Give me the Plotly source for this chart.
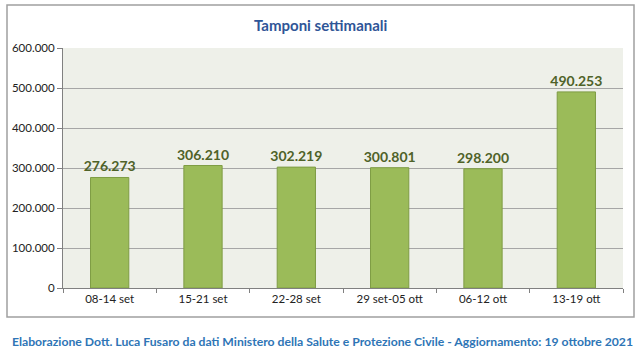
import plotly.graph_objects as go

categories = ["08-14 set", "15-21 set", "22-28 set", "29 set-05 ott", "06-12 ott", "13-19 ott"]
values = [276273, 306210, 302219, 300801, 298200, 490253]
labels = ["276.273", "306.210", "302.219", "300.801", "298.200", "490.253"]
title = "Tamponi settimanali"
footer = "Elaborazione Dott. Luca Fusaro da dati Ministero della Salute e Protezione Civile - Aggiornamento: 19 ottobre 2021"

FONT = "Lato"
L, R, T, B = 63, 21, 48, 64
W, H = 644, 352
pw, ph = W - L - R, H - T - B

def px(x):
    return (x - L) / pw

def py(y):
    return (H - B - y) / ph

fig = go.Figure(go.Bar(
    x=categories, y=values, text=labels, textposition="outside",
    constraintext="none",
    textfont=dict(family=FONT, size=14, color="#4F6228", weight="bold"),
    marker=dict(color="#9BBB59", line=dict(color="#7E9C44", width=1)),
    width=0.41, cliponaxis=False,
))

fig.update_layout(
    width=W, height=H, margin=dict(l=L, r=R, t=T, b=B),
    paper_bgcolor="white", plot_bgcolor="#EEF0E9",
    separators=",.",
    showlegend=False,
    font=dict(family=FONT, size=11, color="#222222"),
    xaxis=dict(showgrid=False, ticks="outside", tickson="boundaries", ticklen=4,
               tickcolor="#808080", showline=True, linecolor="#808080", linewidth=1,
               tickfont=dict(size=11.5, color="#222222")),
    yaxis=dict(range=[0, 600000], dtick=100000, tickformat=",d", showgrid=True,
               gridcolor="#A6A6A6", gridwidth=1, ticks="outside", ticklen=5,
               tickcolor="#808080", showline=True, linecolor="#808080", linewidth=1,
               zeroline=False, tickfont=dict(size=11.5, color="#222222")),
    shapes=[
        dict(type="rect", xref="paper", yref="paper", x0=px(7), x1=px(634), y0=py(317), y1=py(5),
             line=dict(color="#A0A0A0", width=1.5), fillcolor="rgba(0,0,0,0)", layer="below"),
    ],
    annotations=[
        dict(text=title, xref="paper", yref="paper", x=px(321), y=py(25), showarrow=False,
             xanchor="center", yanchor="middle",
             font=dict(family=FONT, size=15, color="#2F5597", weight="bold")),
        dict(text=footer, xref="paper", yref="paper", x=px(322), y=py(341), showarrow=False,
             xanchor="center", yanchor="middle",
             font=dict(family=FONT, size=12.2, color="#2E75B6", weight="bold")),
    ],
)

fig.write_html("out.html")
